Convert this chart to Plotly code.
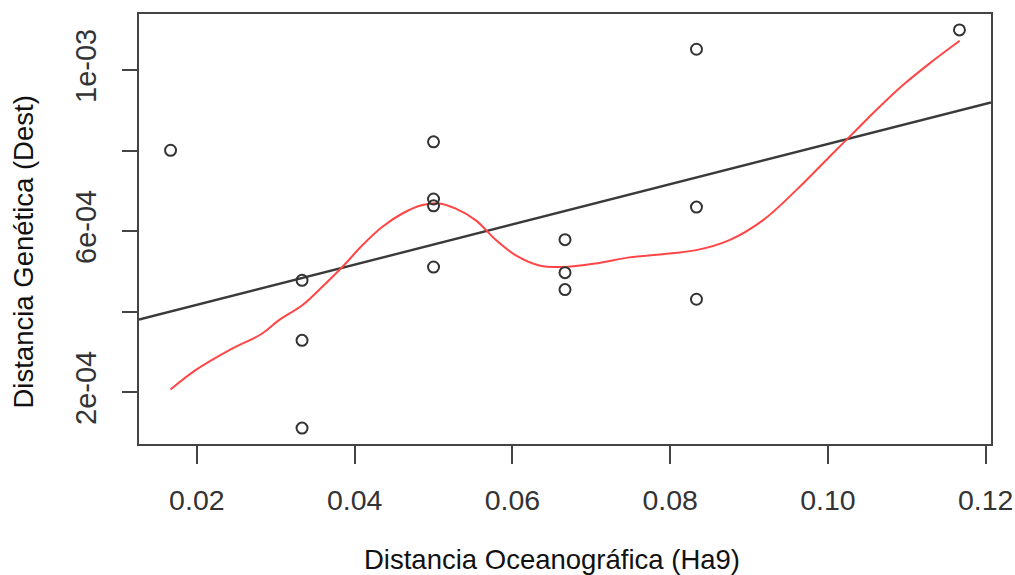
import numpy as np
import plotly.graph_objects as go

# Observed points (pairwise distances)
x_ocean = [1/60, 2/60, 2/60, 2/60, 3/60, 3/60, 3/60, 3/60,
           4/60, 4/60, 4/60, 5/60, 5/60, 5/60, 7/60]
y_gen = [8.01e-4, 4.78e-4, 3.29e-4, 1.11e-4, 8.22e-4, 6.80e-4, 6.63e-4, 5.11e-4,
         5.79e-4, 4.97e-4, 4.55e-4, 1.052e-3, 6.60e-4, 4.31e-4, 1.100e-3]

# Smoothed (red) curve
smooth_x = [0.01666, 0.01984, 0.02406, 0.02829, 0.03041, 0.03336, 0.0359, 0.03844,
            0.04098, 0.04352, 0.04605, 0.04859, 0.05071, 0.05283, 0.05537, 0.05791,
            0.06044, 0.0634, 0.06636, 0.0706, 0.07482, 0.07905, 0.08329, 0.08751,
            0.09174, 0.09598, 0.1002, 0.10316, 0.10655, 0.10951, 0.11289, 0.1167]
smooth_y = [2.07e-4, 2.55e-4, 3.04e-4, 3.46e-4, 3.79e-4, 4.16e-4, 4.62e-4, 5.11e-4,
            5.65e-4, 6.11e-4, 6.44e-4, 6.65e-4, 6.69e-4, 6.56e-4, 6.27e-4, 5.78e-4,
            5.40e-4, 5.15e-4, 5.11e-4, 5.20e-4, 5.35e-4, 5.43e-4, 5.53e-4, 5.78e-4,
            6.27e-4, 7.02e-4, 7.85e-4, 8.43e-4, 9.09e-4, 9.63e-4, 1.017e-3, 1.073e-3]

x_ticks = [0.02, 0.04, 0.06, 0.08, 0.10, 0.12]
x_ticktext = ["0.02", "0.04", "0.06", "0.08", "0.10", "0.12"]
y_ticks = [2e-4, 4e-4, 6e-4, 8e-4, 1e-3]
y_ticktext = ["2e-04", "", "6e-04", "", "1e-03"]

x_title = "Distancia Oceanográfica (Ha9)"
y_title = "Distancia Genética (Dest)"

# R-style axis ranges (4% padding)
xmin, xmax = min(x_ocean), max(x_ocean)
ymin, ymax = min(y_gen), max(y_gen)
xr = [xmin - 0.04 * (xmax - xmin), xmax + 0.04 * (xmax - xmin)]
yr = [ymin - 0.04 * (ymax - ymin), ymax + 0.04 * (ymax - ymin)]

slope, intercept = np.polyfit(x_ocean, y_gen, 1)
line_x = np.array(xr)
line_y = intercept + slope * line_x

FONT = "Liberation Sans, Arial, sans-serif"
L, R, T, B = 139, 24, 14, 131
PW, PH = 1015 - L - R, 575 - T - B

fig = go.Figure()
fig.add_trace(go.Scatter(x=line_x, y=line_y, mode="lines",
                         line=dict(color="#3a3a3a", width=2.4), hoverinfo="skip"))
fig.add_trace(go.Scatter(x=smooth_x, y=smooth_y, mode="lines",
                         line=dict(color="rgb(255,70,70)", width=2, shape="spline"),
                         hoverinfo="skip"))
fig.add_trace(go.Scatter(x=x_ocean, y=y_gen, mode="markers",
                         marker=dict(symbol="circle-open", size=11,
                                     line=dict(color="#333333", width=2),
                                     color="#333333")))

fig.update_layout(
    width=1015, height=575, autosize=False,
    margin=dict(l=L, r=R, t=T, b=B, autoexpand=False),
    paper_bgcolor="white", plot_bgcolor="white",
    showlegend=False,
    font=dict(family=FONT, color="#222222"),
    xaxis=dict(range=xr, tickvals=x_ticks, ticktext=x_ticktext,
               showgrid=False, zeroline=False, automargin=False,
               showline=True, mirror=True, linecolor="#444444", linewidth=2,
               ticks="outside", ticklen=18, tickwidth=1.6, tickcolor="#444444",
               tickfont=dict(size=28.5, family=FONT, color="#333333"),
               ticklabelstandoff=12),
    yaxis=dict(range=yr, tickvals=y_ticks, ticktext=y_ticktext,
               showgrid=False, zeroline=False, automargin=False,
               showline=True, mirror=True, linecolor="#444444", linewidth=2,
               ticks="outside", ticklen=15, tickwidth=1.6, tickcolor="#444444",
               tickangle=-90,
               tickfont=dict(size=29, family=FONT, color="#333333"),
               ticklabelstandoff=14),
    annotations=[
        dict(text=x_title, xref="paper", yref="paper",
             x=(551.5 - L) / PW, y=(575 - B - 559) / PH,
             xanchor="center", yanchor="middle", showarrow=False,
             font=dict(size=27.5, family=FONT, color="#111111")),
        dict(text=y_title, xref="paper", yref="paper",
             x=(23 - L) / PW, y=(575 - B - 252.5) / PH,
             xanchor="center", yanchor="middle", showarrow=False, textangle=-90,
             font=dict(size=27.5, family=FONT, color="#111111")),
    ],
)

fig.write_html("out.html")
